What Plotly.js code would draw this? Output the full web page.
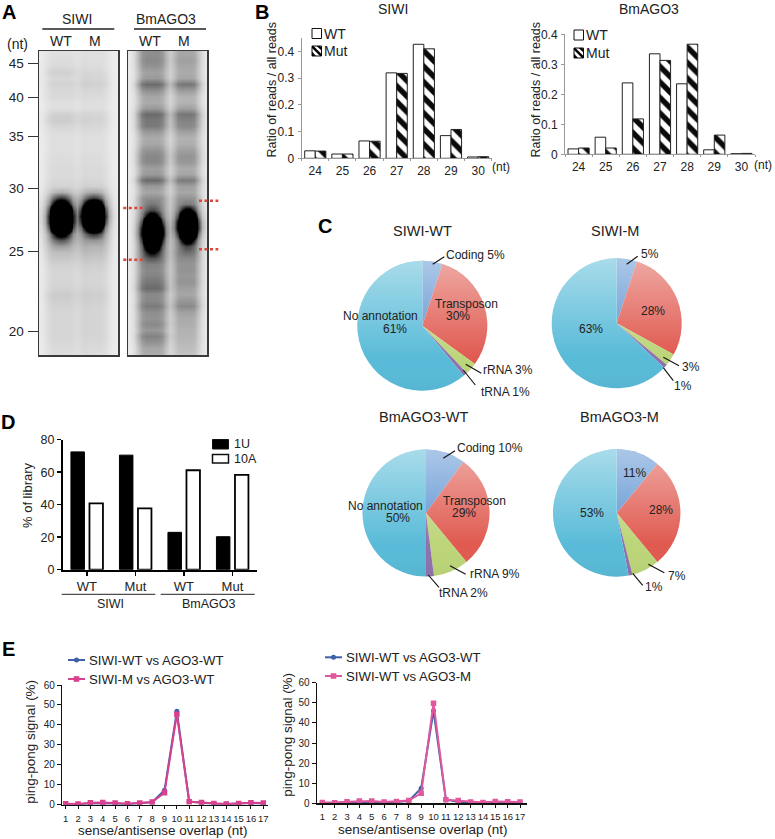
<!DOCTYPE html>
<html><head><meta charset="utf-8">
<script src="https://cdn.plot.ly/plotly-3.0.1.min.js"></script>
<style>html,body{margin:0;padding:0;background:#fff}#c{width:775px;height:839px}</style>
</head><body><div id="c"></div>
<script>
// ---------- Panel A: gel densitometry ----------
const gelRows=[54,60,66,72,78,84,90,96,102,108,114,120,126,132,138,144,150,156,162,168,174,180,186,192,198,204,210,216,222,228,234,240,246,252,258,264,270,276,282,288,294,300,306,312,318,324,330,336,342,348,354];
const gelSizes=["45","40","35","30","25","20"];
const gelSizeRows=[63,97,136.3,188.7,251.7,331.7];
const gel1Cols=[41,45,49,53,57,61,65,69,73,77,81,85,89,93,97,101,105,109,113,117];
const gel2Cols=[130,134,138,142,146,150,154,158,162,166,170,174,178,182,186,190,194,198,202,206];
const siwiWtSmear=[.06,.07,.08,.12,.09,.11,.09,.09,.06,.06,.12,.14,.10,.07,.06,.06,.06,.07,.07,.08,.08,.09,.11,.16,.25,.30,.30,.30,.30,.30,.30,.30,.24,.20,.16,.12,.10,.10,.10,.11,.14,.13,.11,.10,.10,.10,.10,.10,.09,.08,.07];
const siwiMSmear=[.06,.06,.07,.09,.10,.12,.09,.08,.06,.06,.10,.11,.09,.07,.06,.06,.06,.07,.07,.08,.08,.09,.12,.18,.27,.30,.30,.30,.30,.30,.30,.28,.24,.20,.16,.13,.11,.10,.10,.11,.13,.12,.11,.10,.10,.10,.10,.10,.09,.08,.07];
const agoWtSmear=[.40,.42,.38,.32,.35,.55,.40,.30,.28,.35,.55,.50,.48,.35,.28,.30,.38,.43,.42,.33,.35,.55,.35,.30,.40,.40,.40,.40,.40,.40,.40,.40,.45,.50,.50,.45,.42,.45,.50,.55,.42,.42,.48,.40,.38,.42,.36,.45,.38,.30,.28];
const agoMSmear=[.30,.33,.30,.28,.30,.50,.35,.25,.24,.32,.50,.45,.42,.32,.25,.27,.33,.38,.36,.28,.30,.48,.33,.30,.38,.40,.40,.40,.40,.40,.40,.40,.42,.45,.42,.38,.38,.36,.38,.33,.30,.36,.42,.32,.28,.27,.25,.24,.22,.20,.18];
const siwiWtBand=[0,0,0,0,0,0,0,0,0,0,0,0,0,0,0,0,0,0,0,0,0,0,0,.1,.55,1.3,3.5,5,4.8,3,1,.35,.1,0,0,0,0,0,0,0,0,0,0,0,0,0,0,0,0,0,0];
const siwiMBand=[0,0,0,0,0,0,0,0,0,0,0,0,0,0,0,0,0,0,0,0,0,0,0,.1,.5,1.6,3.8,5,3.8,1.6,.5,.1,0,0,0,0,0,0,0,0,0,0,0,0,0,0,0,0,0,0,0];
const agoWtBand=[0,0,0,0,0,0,0,0,0,0,0,0,0,0,0,0,0,0,0,0,0,0,0,0,0,.1,.3,.9,2.6,4.5,5,3.2,1.4,.55,.15,0,0,0,0,0,0,0,0,0,0,0,0,0,0,0,0];
const agoMBand=[0,0,0,0,0,0,0,0,0,0,0,0,0,0,0,0,0,0,0,0,0,0,0,0,0,.1,.8,2.3,4.5,5,2.8,1,.3,.1,0,0,0,0,0,0,0,0,0,0,0,0,0,0,0,0,0];
const siwiWtLane=[.15,.45,.8,1,1,1,1,.95,.75,.4,.2,.1,.03,0,0,0,0,0,0,0];
const siwiMLane=[0,0,0,0,0,0,0,.05,.15,.4,.75,1,1,1,1,1,.8,.45,.15,.05];
const siwiWtCore=[.01,.03,.13,.5,.85,1,.85,.5,.13,.03,.01,0,0,0,0,0,0,0,0,0];
const siwiMCore=[0,0,0,0,0,0,0,0,0,.02,.13,.45,.8,1,.9,.6,.13,.03,.01,0];
const agoWtLane=[.05,.2,.55,.9,1,1,1,1,.9,.55,.2,.1,.05,0,0,0,0,0,0,0];
const agoMLane=[0,0,0,0,0,0,0,0,0,.05,.2,.55,.9,1,1,1,.95,.6,.25,.08];
const agoWtCore=[0,.01,.04,.14,.6,1,1,.6,.17,.04,.01,0,0,0,0,0,0,0,0,0];
const agoMCore=[0,0,0,0,0,0,0,0,0,0,.01,.04,.15,.6,1,.9,.5,.12,.03,.01];

// ---------- Panel B ----------
const lengths=["24","25","26","27","28","29","30"];
const siwiWt=[.028,.016,.065,.32,.427,.085,.005];
const siwiMut=[.027,.016,.064,.318,.41,.108,.006];
const agoWt=[.018,.057,.238,.335,.235,.015,.002];
const agoMut=[.021,.021,.118,.313,.367,.064,.003];

// ---------- Panel C ----------
const pieLabels=["Coding","Transposon","rRNA","tRNA","No annotation"];
const pieColors=["#5f94d2","#e05a50","#bcd578","#8f72ad","#59bbd8"];
const siwiWtPie=[5,30,3,1,61];
const siwiMPie=[5,28,3,1,63];
const agoWtPie=[10,29,9,2,50];
const agoMPie=[11,28,7,1,53];

// ---------- Panel D ----------
const dIndex=[0,1,2,3];
const dLabels=["WT","Mut","WT","Mut"];
const u1=[72.5,70.5,23,20.3];
const a10=[40.8,37.8,61.2,58.3];

// ---------- Panel E ----------
const overlap=[1,2,3,4,5,6,7,8,9,10,11,12,13,14,15,16,17];
const eLeftWt=[.3,.2,.6,.7,.6,.3,.6,1.2,7.2,46.8,1.6,1,.5,.3,.5,.8,.6];
const eLeftM=[.5,.3,1,1.1,.8,.5,.8,1.3,6,45.3,1.5,1.1,.6,.4,.6,1,.8];
const eRightWt=[.2,.2,.5,.7,.6,.4,.6,1.2,7.5,46,1.8,.8,.5,.3,.5,.6,.5];
const eRightM=[.4,.3,.8,1.1,1.1,.6,.9,1.4,5,49.8,1.8,1.4,.7,.4,.9,.8,.7];

// ---------- helpers ----------
const W=775,H=839,FONT='"Liberation Sans", Arial, sans-serif',INK='#222';
const X=p=>p/W, Y=p=>1-p/H;
const dx=(a,b)=>[a/W,b/W], dy=(t,b)=>[1-b/H,1-t/H];
const anns=[],shapes=[],images=[];
function T(text,x,y,size,o){anns.push(Object.assign({text,x:X(x),y:Y(y),xref:'paper',yref:'paper',showarrow:false,xanchor:'center',yanchor:'middle',font:{family:FONT,size:size||12.5,color:INK}},o||{}));}
function L(x0,y0,x1,y1,color,width,dash){shapes.push({type:'line',xref:'paper',yref:'paper',x0:X(x0),y0:Y(y0),x1:X(x1),y1:Y(y1),line:{color:color||'#111',width:width||1,dash:dash||'solid'}});}
function R(x0,y0,x1,y1,fill,lw,type){shapes.push({type:type||'rect',xref:'paper',yref:'paper',x0:X(x0),y0:Y(y0),x1:X(x1),y1:Y(y1),fillcolor:fill,line:{color:'#111',width:lw}});}
function P(pts,fill){shapes.push({type:'path',xref:'paper',yref:'paper',path:'M'+pts.map(p=>X(p[0]).toFixed(5)+' '+Y(p[1]).toFixed(5)).join('L')+'Z',fillcolor:fill,line:{width:0}});}

function gel(cols,xa,ya,a,b,ca,cb,la,lb,coreA,coreB){
  const z=gelRows.map((_,r)=>cols.map((_,c)=>a[r]*la[c]+b[r]*lb[c]+ca[r]*coreA[c]+cb[r]*coreB[c]));
  return {type:'heatmap',x:cols,y:gelRows,z,xaxis:xa,yaxis:ya,zmin:0,zmax:1,zsmooth:'best',showscale:false,hoverinfo:'skip',
    colorscale:[[0,'#ededed'],[1,'#000000']]};
}
function barPair(x,wt,mut,xa,ya){
  return [
   {type:'bar',x,y:wt,name:'WT',xaxis:xa,yaxis:ya,width:.39,offset:-.39,marker:{color:'#fff',line:{color:'#222',width:1}}},
   {type:'bar',x,y:mut,name:'Mut',xaxis:xa,yaxis:ya,width:.39,offset:0,marker:{color:'#fff',line:{color:'#222',width:1},pattern:{shape:'\\',fgcolor:'#0a0a0a',bgcolor:'#fff',size:11,solidity:.5}}}
  ];
}
function pie(v,cx,cy,r,name){
  images.push({source:'data:image/svg+xml;charset=utf-8,'+encodeURIComponent('<svg xmlns="http://www.w3.org/2000/svg" width="200" height="200" viewBox="0 0 200 200"><defs><linearGradient id="g" x1="0" y1="0" x2="0" y2="1"><stop offset="0" stop-color="#fff" stop-opacity=".48"/><stop offset=".75" stop-color="#fff" stop-opacity="0"/><stop offset="1" stop-color="#000" stop-opacity=".03"/></linearGradient></defs><circle cx="100" cy="100" r="100" fill="url(#g)"/></svg>'),
    xref:'paper',yref:'paper',x:X(cx-r),y:Y(cy-r),sizex:2*r/W,sizey:2*r/H,sizing:'stretch',xanchor:'left',yanchor:'top',layer:'above'});
  return {type:'pie',name,labels:pieLabels,values:v,sort:false,direction:'clockwise',rotation:0,textinfo:'none',hoverinfo:'label+percent',
    marker:{colors:pieColors,line:{width:0}},domain:{x:dx(cx-r,cx+r),y:dy(cy-r,cy+r)},showlegend:false};
}
function pingpong(wt,m,xa,ya,n1,n2,pink){
  return [
   {type:'scatter',mode:'lines+markers',x:overlap,y:wt,name:n1,xaxis:xa,yaxis:ya,line:{color:'#3f5fa8',width:2},marker:{color:'#3f5fa8',symbol:'circle',size:5}},
   {type:'scatter',mode:'lines+markers',x:overlap,y:m,name:n2,xaxis:xa,yaxis:ya,line:{color:pink,width:2},marker:{color:pink,symbol:'square',size:5.5}}
  ];
}

// ---------- traces ----------
const data=[
 gel(gel1Cols,'x','y',siwiWtSmear,siwiMSmear,siwiWtBand,siwiMBand,siwiWtLane,siwiMLane,siwiWtCore,siwiMCore),
 gel(gel2Cols,'x2','y2',agoWtSmear,agoMSmear,agoWtBand,agoMBand,agoWtLane,agoMLane,agoWtCore,agoMCore),
 ...barPair(lengths,siwiWt,siwiMut,'x3','y3'),
 ...barPair(lengths,agoWt,agoMut,'x4','y4'),
 {type:'bar',x:dIndex,y:u1,name:'1U',xaxis:'x5',yaxis:'y5',width:.278,offset:-.33,marker:{color:'#000',line:{color:'#000',width:1}}},
 {type:'bar',x:dIndex,y:a10,name:'10A',xaxis:'x5',yaxis:'y5',width:.278,offset:.052,marker:{color:'#fff',line:{color:'#000',width:1.8}}},
 ...pingpong(eLeftWt,eLeftM,'x6','y6','SIWI-WT vs AGO3-WT','SIWI-M vs AGO3-WT','#d9418f'),
 ...pingpong(eRightWt,eRightM,'x7','y7','SIWI-WT vs AGO3-WT','SIWI-WT vs AGO3-M','#e2589e'),
 pie(siwiWtPie,422.3,325.7,65,'SIWI-WT'),
 pie(siwiMPie,616.7,323.3,65,'SIWI-M'),
 pie(agoWtPie,426,513,63.5,'BmAGO3-WT'),
 pie(agoMPie,616.7,513,63.7,'BmAGO3-M')
];

// ---------- axes ----------
const tf=s=>({family:FONT,size:s,color:INK});
const gelX=(d,r,a)=>({domain:d,range:r,anchor:a,showticklabels:false,ticks:'',showgrid:false,zeroline:false,showline:true,mirror:true,linecolor:'#3a3a3a',linewidth:1.5,fixedrange:true});
const gelY=(show,a)=>({domain:dy(51,355),range:[355,51],anchor:a,showgrid:false,zeroline:false,showline:true,mirror:true,linecolor:'#3a3a3a',linewidth:1.5,fixedrange:true,
  tickmode:'array',tickvals:show?gelSizeRows:[],ticktext:show?gelSizes:[],ticks:show?'outside':'',ticklen:10,tickcolor:'#333',tickwidth:1,tickfont:tf(13.5),ticklabelstandoff:1});
const bX=(d,a)=>({domain:d,anchor:a,type:'category',tickson:'boundaries',ticks:'outside',ticklen:2,tickcolor:'#999',linecolor:'#999',linewidth:1,showline:true,showgrid:false,zeroline:false,tickfont:tf(12),fixedrange:true,ticklabelstandoff:1});
const bY=(d,r,a)=>({domain:d,range:r,anchor:a,tickmode:'array',tickvals:[0,.1,.2,.3,.4],ticktext:['0','0.1','0.2','0.3','0.4'],ticks:'outside',ticklen:3,tickcolor:'#999',linecolor:'#999',linewidth:1,showline:true,showgrid:false,zeroline:false,tickfont:tf(12),fixedrange:true,ticklabelstandoff:1});
const eX=(d,r,a)=>({domain:d,range:r,anchor:a,tickmode:'linear',tick0:1,dtick:1,tickangle:0,ticks:'outside',ticklen:3,tickcolor:'#111',linecolor:'#111',linewidth:1.5,showline:true,showgrid:false,zeroline:false,tickfont:tf(9.5),fixedrange:true,ticklabelstandoff:1});
const eY=(d,a)=>({domain:d,range:[0,60],anchor:a,dtick:10,ticks:'outside',ticklen:4,tickcolor:'#111',linecolor:'#111',linewidth:1.5,showline:true,showgrid:false,zeroline:false,tickfont:tf(10),fixedrange:true});

const layout={
 width:W,height:H,margin:{l:0,r:0,t:0,b:0,pad:0},paper_bgcolor:'#fff',plot_bgcolor:'rgba(0,0,0,0)',showlegend:false,barmode:'group',
 font:{family:FONT,color:INK},
 xaxis:gelX(dx(39,118),[39,118],'y'),yaxis:gelY(true,'x'),
 xaxis2:gelX(dx(128,207),[128,207],'y2'),yaxis2:gelY(false,'x2'),
 xaxis3:bX(dx(301.7,491.7),'y3'),yaxis3:bY(dy(37.7,158.3),[0,.4517],'x3'),
 xaxis4:bX(dx(565,755),'y4'),yaxis4:bY(dy(33.7,154.3),[0,.402],'x4'),
 xaxis5:{domain:dx(62.7,256.7),anchor:'y5',range:[-.5,3.5],tickmode:'array',tickvals:dIndex,ticktext:dLabels,ticks:'outside',ticklen:4,tickcolor:'#000',tickwidth:1.5,linecolor:'#000',linewidth:1.8,showline:true,showgrid:false,zeroline:false,tickfont:tf(13),fixedrange:true},
 yaxis5:{domain:dy(439.7,569.7),anchor:'x5',range:[0,80],dtick:20,ticks:'outside',ticklen:4,tickcolor:'#000',tickwidth:1.5,linecolor:'#000',linewidth:1.8,showline:true,showgrid:false,zeroline:false,tickfont:tf(12.5),fixedrange:true},
 xaxis6:eX(dx(62.3,268),[.725,17.38],'y6'),yaxis6:eY(dy(685,804.7),'x6'),
 xaxis7:eX(dx(317,526.7),[.57,17.54],'y7'),yaxis7:eY(dy(682.7,803.3),'x7'),
 annotations:anns,shapes,images
};

// ---------- panel letters ----------
[['A',9,12],['B',262,12],['C',325,226],['D',8,422],['E',8,649]].forEach(a=>T('<b>'+a[0]+'</b>',a[1],a[2],20,{font:{family:FONT,size:20,color:'#000'}}));

// ---------- panel A text ----------
T('(nt)',17.7,44,14);
T('SIWI',76.7,19,14);T('BmAGO3',166,19,14);
T('WT',61,41,14);T('M',95,41,14);T('WT',150,41,14);T('M',184.3,41,14);
L(42.3,29,114.3,29,'#222',1.3);L(134,29,206,29,'#222',1.3);
const red='#d9483b',rdash='3px,2.5px';
L(123.3,208,142.7,208,red,2.5,rdash);L(123.3,259.7,142.7,259.7,red,2.5,rdash);
L(199,200.7,218.3,200.7,red,2.5,rdash);L(199,249.3,218.3,249.3,red,2.5,rdash);

// ---------- panel B text and keys ----------
T('SIWI',393,9,14);T('BmAGO3',649,9,14);
T('Ratio of reads / all reads',271.5,90,12.5,{textangle:-90});
T('Ratio of reads / all reads',535.5,90,12.5,{textangle:-90});
T('(nt)',500.7,167,12);T('(nt)',762.7,165,12);
function keyB(x,y1,y2){
  R(x,y1-5,x+9.5,y1+5,'#fff',1);
  R(x,y2-5,x+9.5,y2+5,'#fff',1);
  P([[x,y2-5],[x+1.5,y2-5],[x+9.5,y2+3],[x+9.5,y2+5],[x+8,y2+5],[x,y2-3]],'#000');
  P([[x+4.5,y2-5],[x+8,y2-5],[x+9.5,y2-3.5],[x+9.5,y2-.5]],'#000');
  P([[x,y2+.5],[x+4,y2+5],[x,y2+5]],'#000');
  T('WT',x+10,y1,14,{xanchor:'left'});T('Mut',x+10,y2,14,{xanchor:'left'});
}
keyB(312,33.5,51);keyB(574,35,53);

// ---------- panel C text and leaders ----------
T('SIWI-WT',422.3,230.7,14.5);T('SIWI-M',615,230.7,14.5);T('BmAGO3-WT',423.7,417,14.5);T('BmAGO3-M',619,417,14.5);
[['Coding 5%',475.3,254.7],['Transposon',467,303.7],['30%',458,316.3],['No annotation',380.3,316.3],['61%',395,329],['rRNA 3%',508,370],['tRNA 1%',505,392],
 ['5%',650.3,254.3],['28%',653.3,310.7],['63%',591,329],['3%',691,366.7],['1%',683.3,386],
 ['Coding 10%',490,448],['Transposon',474.7,501],['29%',464,513],['No annotation',385.3,506],['50%',398.3,518],['rRNA 9%',494.7,573.7],['tRNA 2%',463,592.7],
 ['11%',634.3,473],['28%',661,510.3],['53%',591.7,513],['7%',677.3,575.7],['1%',654.3,587.3]
].forEach(a=>T(a[0],a[1],a[2],12));
[[432.7,264.3,444.3,256.7],[465.7,364.3,481.3,373.3],[463.3,370,475.3,385],
 [626.7,264.3,637.7,256.3],[663.3,357.3,679,365.7],[663.3,367.7,673.3,380.7],
 [443.3,458.3,455,450.7],[450,565.7,465.7,574.3],[428.3,575,439,587.3],
 [648.3,564.3,664.3,572.7],[632.7,573.3,642.7,585.3]
].forEach(l=>L(l[0],l[1],l[2],l[3],'#111',1.1));

// ---------- panel D text and key ----------
T('% of library',27,495,13,{textangle:-90});
L(61.7,594.3,155.3,594.3,'#222',1);L(160.7,594.3,254.7,594.3,'#222',1);
T('SIWI',110,604,12.5);T('BmAGO3',209,604,12.5);
R(212.5,439.5,228.5,449,'#000',1);R(212.5,454.5,228.5,463,'#fff',1.5);
T('1U',232,444,12.5,{xanchor:'left'});T('10A',232,459.5,12.5,{xanchor:'left'});

// ---------- panel E text and keys ----------
function keyE(x0,x1,y1,y2,txt,pink){
  const c=(x0+x1)/2;
  L(x0,y1,x1,y1,'#3f5fa8',2);R(c-2.5,y1-2.5,c+2.5,y1+2.5,'#3f5fa8',0,'circle');
  L(x0,y2,x1,y2,pink,2);R(c-2.8,y2-2.8,c+2.8,y2+2.8,pink,0);
  T('SIWI-WT vs AGO3-WT',x1+2,y1,13.2,{xanchor:'left'});T(txt,x1+2,y2,13.2,{xanchor:'left'});
}
keyE(68,85,660,679,'SIWI-M vs AGO3-WT','#d9418f');
keyE(325,342,657.3,676,'SIWI-WT vs AGO3-M','#e2589e');
T('ping-pong signal (%)',31,741.7,13.5,{textangle:-90});
T('ping-pong signal (%)',286.7,735,13.5,{textangle:-90});
T('sense/antisense overlap (nt)',163,830.5,13.5);
T('sense/antisense overlap (nt)',423,829.5,13.5);

Plotly.newPlot('c',data,layout,{displayModeBar:false,staticPlot:true});
</script></body></html>
